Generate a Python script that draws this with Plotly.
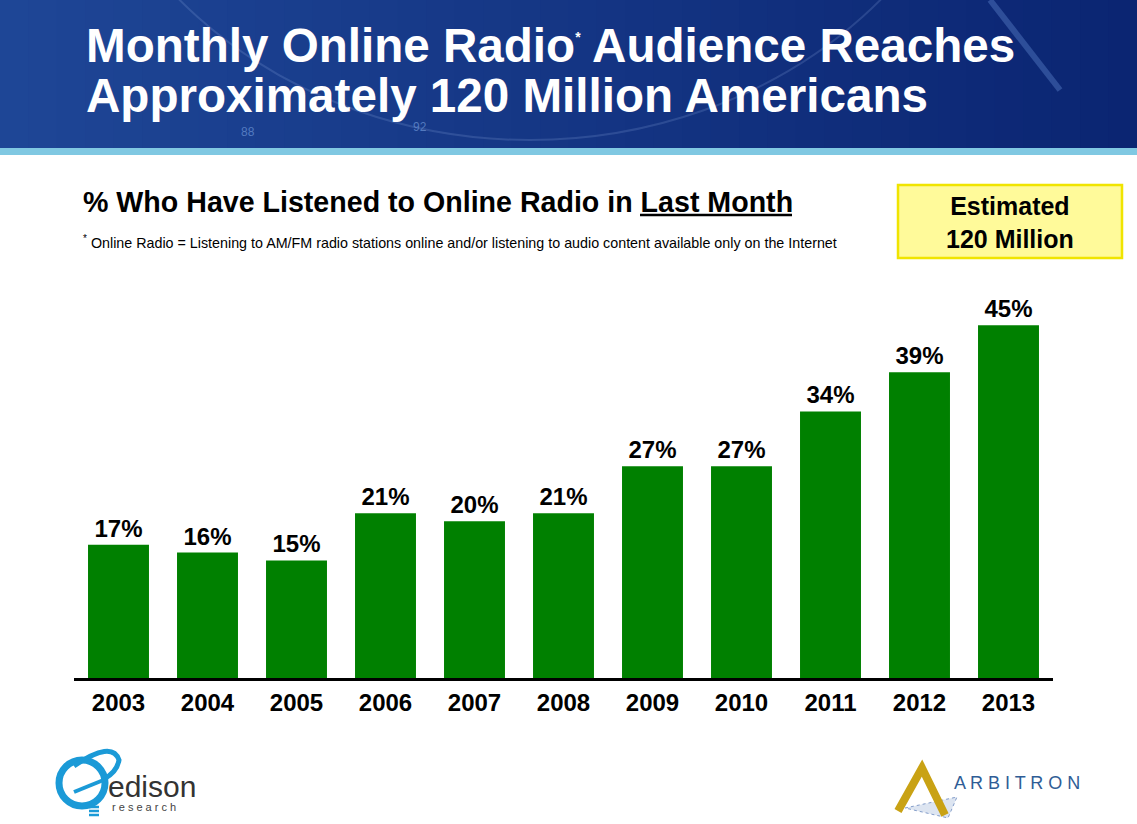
import plotly.graph_objects as go

# ---- data ----
years = ["2003", "2004", "2005", "2006", "2007", "2008", "2009", "2010", "2011", "2012", "2013"]
pct = [17, 16, 15, 21, 20, 21, 27, 27, 34, 39, 45]
bar_labels = [f"{v}%" for v in pct]

title_line1 = "Monthly Online Radio<sup><span style='font-size:14px'>*</span></sup> Audience Reaches"
title_line2 = "Approximately 120 Million Americans"
subtitle = "% Who Have Listened to Online Radio in Last Month"
footnote = "<sup>*</sup> Online Radio = Listening to AM/FM radio stations online and/or listening to audio content available only on the Internet"
callout = "Estimated<br>120 Million"

W, H = 1137, 824
FONT = "Liberation Sans, Arial, sans-serif"


def px(x):
    return x / W


def py(y):
    return 1 - y / H


fig = go.Figure(
    go.Bar(
        x=years,
        y=pct,
        text=bar_labels,
        textposition="outside",
        textfont=dict(family=FONT, size=24, color="black", weight="bold"),
        marker=dict(color="#008000", line=dict(width=0)),
        width=0.685,
        cliponaxis=False,
        hoverinfo="skip",
    )
)

shapes = []
# header gradient background
n = 40
c0 = (0x1E, 0x46, 0x96)
c1 = (0x0B, 0x25, 0x72)
for i in range(n):
    t = i / (n - 1)
    col = tuple(int(round(c0[k] + (c1[k] - c0[k]) * t)) for k in range(3))
    shapes.append(dict(type="rect", xref="paper", yref="paper",
                       x0=px(W * i / n), x1=px(W * (i + 1) / n + 1),
                       y0=py(149), y1=py(0), line=dict(width=0),
                       fillcolor="rgb(%d,%d,%d)" % col, layer="below"))
# faint decorative arcs in header
shapes.append(dict(type="circle", xref="paper", yref="paper",
                   x0=px(60), x1=px(1000), y0=py(140), y1=py(-700),
                   line=dict(color="rgba(160,190,240,0.18)", width=2), layer="below"))
shapes.append(dict(type="line", xref="paper", yref="paper",
                   x0=px(990), y0=py(0), x1=px(1060), y1=py(90),
                   line=dict(color="rgba(110,150,220,0.35)", width=6), layer="below"))
# light blue stripe
shapes.append(dict(type="rect", xref="paper", yref="paper",
                   x0=0, x1=1, y0=py(155), y1=py(148),
                   line=dict(width=0), fillcolor="#80C8E2", layer="below"))
# underline for "Last Month"
shapes.append(dict(type="line", xref="paper", yref="paper",
                   x0=px(640), x1=px(792), y0=py(215), y1=py(215),
                   line=dict(color="black", width=2.5)))
# yellow callout box
shapes.append(dict(type="rect", xref="paper", yref="paper",
                   x0=px(898), x1=px(1122), y0=py(258), y1=py(185),
                   line=dict(color="#F0E400", width=2.5), fillcolor="#FFFA9A"))
# edison logo (approximation)
blue = "#1B9AD7"
shapes.append(dict(type="circle", xref="paper", yref="paper",
                   x0=px(59), x1=px(105), y0=py(806), y1=py(760),
                   line=dict(color=blue, width=7)))
shapes.append(dict(type="path", xref="paper", yref="paper",
                   path="M %f %f Q %f %f %f %f Q %f %f %f %f" % (
                       px(74), py(766), px(112), py(740), px(119), py(760),
                       px(117), py(772), px(104), py(779)),
                   line=dict(color=blue, width=5)))
shapes.append(dict(type="path", xref="paper", yref="paper",
                   path="M %f %f L %f %f" % (px(74), py(792), px(106), py(779)),
                   line=dict(color=blue, width=4)))
for yy in (807, 811, 815):
    shapes.append(dict(type="line", xref="paper", yref="paper",
                       x0=px(89), x1=px(99), y0=py(yy), y1=py(yy),
                       line=dict(color=blue, width=2.5)))
# arbitron logo (approximation)
gold = "#C9A214"
shapes.append(dict(type="path", xref="paper", yref="paper",
                   path="M %f %f L %f %f L %f %f Z" % (px(905), py(808), px(957), py(797), px(948), py(818)),
                   line=dict(color="rgba(60,100,170,0.6)", width=1, dash="dot"),
                   fillcolor="rgba(120,150,200,0.25)"))
shapes.append(dict(type="path", xref="paper", yref="paper",
                   path="M %f %f L %f %f L %f %f" % (px(898), py(811), px(922), py(768), px(945), py(815)),
                   line=dict(color=gold, width=8)))

annotations = [
    dict(text=title_line1, x=px(84), y=py(45), xanchor="left", yanchor="middle",
         font=dict(family=FONT, size=47.6, color="white", weight="bold")),
    dict(text=title_line2, x=px(84), y=py(96), xanchor="left", yanchor="middle",
         font=dict(family=FONT, size=47.6, color="white", weight="bold")),
    dict(text="88", x=px(248), y=py(132), xanchor="center", yanchor="middle",
         font=dict(family=FONT, size=12, color="rgba(110,150,215,0.7)")),
    dict(text="92", x=px(420), y=py(127), xanchor="center", yanchor="middle",
         font=dict(family=FONT, size=12, color="rgba(110,150,215,0.7)")),
    dict(text=subtitle, x=px(81), y=py(202), xanchor="left", yanchor="middle",
         font=dict(family=FONT, size=28.6, color="black", weight="bold")),
    dict(text=footnote, x=px(81), y=py(242), xanchor="left", yanchor="middle",
         font=dict(family=FONT, size=14.3, color="black")),
    dict(text=callout, x=px(1010), y=py(222), xanchor="center", yanchor="middle",
         font=dict(family=FONT, size=25, color="black", weight="bold")),
    dict(text="edison", x=px(106), y=py(786), xanchor="left", yanchor="middle",
         font=dict(family=FONT, size=30, color="#333333")),
    dict(text="r e s e a r c h", x=px(110), y=py(807), xanchor="left", yanchor="middle",
         font=dict(family=FONT, size=11, color="#444444")),
    dict(text="A R B I T R O N", x=px(952), y=py(783), xanchor="left", yanchor="middle",
         font=dict(family=FONT, size=18, color="#2F5D96")),
]
for a in annotations:
    a.update(xref="paper", yref="paper", showarrow=False)

fig.update_layout(
    width=W, height=H,
    margin=dict(l=0, r=0, t=0, b=0),
    paper_bgcolor="white", plot_bgcolor="white",
    showlegend=False,
    bargap=0.315,
    shapes=shapes,
    annotations=annotations,
    xaxis=dict(domain=[px(74), px(1053)], range=[-0.5, 10.5], type="category",
               showline=True, linecolor="black", linewidth=3, ticks="",
               showgrid=False, zeroline=False, fixedrange=True,
               tickfont=dict(family=FONT, size=24, color="black", weight="bold"),
               ticklabelstandoff=1),
    yaxis=dict(domain=[py(678), py(286)], range=[0, 50], visible=False,
               fixedrange=True),
)

fig.write_html(
    "out.html",
    config={"displayModeBar": False},
    post_script="document.body.style.margin='0';document.body.style.overflow='hidden';",
)
